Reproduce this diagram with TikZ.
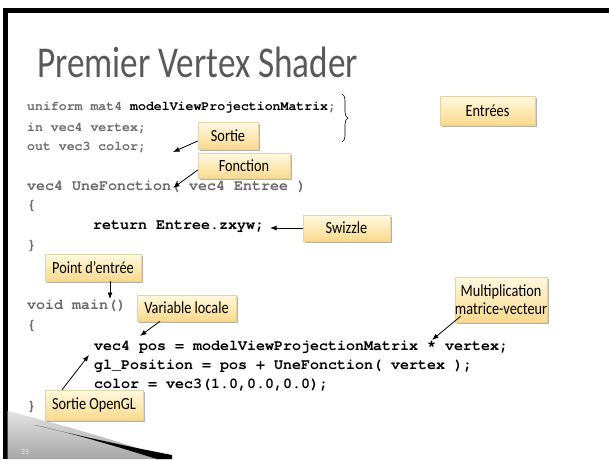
\documentclass[tikz,border=0pt]{standalone}
\usepackage{fontspec}
\setmainfont{Carlito}
\newfontfamily\codefont{texgyrecursor-bold.otf}
\usetikzlibrary{arrows.meta,shadows,decorations.pathreplacing}

\definecolor{titlegray}{HTML}{595959}
\definecolor{codegray}{HTML}{6A6A6A}
\definecolor{calltop}{HTML}{FFF9E0}
\definecolor{callbot}{HTML}{FBD98C}
\definecolor{callline}{HTML}{E3D3A6}

% narrow label text
\newcommand{\narrowtxt}[1]{\scalebox{0.84}[1]{#1}}

\tikzset{
  code/.style={anchor=west, inner sep=0pt, font=\codefont\fontsize{15}{17}\selectfont},
  codedim/.style={code, text=codegray},
  codesmall/.style={codedim, font=\codefont\fontsize{13.2}{15}\selectfont},
  callout/.style={draw=callline, line width=0.5pt, top color=calltop, bottom color=callbot,
    drop shadow={shadow xshift=1.6pt, shadow yshift=-1.6pt, opacity=0.3, fill=black},
    font=\fontsize{17}{18.5}\selectfont, inner sep=0pt, align=center},
  pointer/.style={-{Latex[length=6.5pt,width=5pt]}, line width=0.8pt, black},
}

\begin{document}
\begin{tikzpicture}[x=1pt,y=1pt]
\useasboundingbox (0,0) rectangle (609,-459);
\fill[white] (0,0) rectangle (609,-459);

% slide frame
\fill[black] (3,-8) rectangle (609,-12.5);
\fill[black] (3,-8) rectangle (7.5,-459);

% bottom-left swoosh
\shade[top color=gray!22, bottom color=gray!70] (7.5,-411) .. controls (60,-424) and (115,-440) .. (170,-459) -- (7.5,-459) -- cycle;
\fill[black] (35,-425) .. controls (80,-436) and (125,-446) .. (172,-455) -- (172,-459) -- (157,-459) .. controls (115,-446) and (75,-434) .. cycle;
\node[font=\sffamily\fontsize{7.5}{8}\selectfont, text=white!85!gray] (slideno) at (25,-452) {23};

% title
\node[anchor=base west, inner sep=0pt, text=titlegray, font=\fontsize{44}{48}\selectfont] (title) at (37,-77) {\scalebox{0.8}[1]{Premier Vertex Shader}};

% shader source
\node[codesmall] (l1) at (27,-108) {uniform mat4 \textcolor{black}{modelViewProjectionMatrix};};
\node[codesmall] (l2) at (27,-128) {in vec4 vertex;};
\node[codesmall] (l3) at (27,-148) {out vec3 color;};
\node[codedim] (l4) at (27,-187) {vec4 UneFonction( vec4 Entree )};
\node[codedim] (l5) at (27,-206) {\{};
\node[code]    (l6) at (93,-227) {return Entree.zxyw;};
\node[codedim] (l7) at (27,-246) {\}};
\node[codedim] (l8) at (27,-306) {void main()};
\node[codedim] (l9) at (27,-326) {\{};
\node[code]    (l10) at (94,-347) {vec4 pos = modelViewProjectionMatrix * vertex;};
\node[code]    (l11) at (94,-366) {gl\_Position = pos + UneFonction( vertex );};
\node[code]    (l12) at (94,-385) {color = vec3(1.0,0.0,0.0);};
\node[codedim] (l13) at (27,-407) {\}};

% inputs brace
\draw[decorate, decoration={brace, amplitude=6pt, aspect=0.5}, line width=0.6pt] (342,-94) -- (342,-142);

% callouts
\node[callout, minimum width=95pt, minimum height=29pt] (entrees) at (487.5,-110.5) {\narrowtxt{Entrées}};
\node[callout, minimum width=60pt, minimum height=27pt] (sortie) at (228,-136) {\narrowtxt{Sortie}};
\node[callout, minimum width=92pt, minimum height=25pt] (fonction) at (244,-166) {\narrowtxt{Fonction}};
\node[callout, minimum width=87pt, minimum height=26pt] (swizzle) at (346.5,-228) {\narrowtxt{Swizzle}};
\node[callout, minimum width=96pt, minimum height=27pt] (entry) at (93,-267.5) {\narrowtxt{Point d’entrée}};
\node[callout, minimum width=99pt, minimum height=26pt] (locale) at (186.5,-308) {\narrowtxt{Variable locale}};
\node[callout, minimum width=89pt, minimum height=45pt] (mult) at (501,-299.5) {\narrowtxt{Multiplication}\\\narrowtxt{matrice-vecteur}};
\node[callout, minimum width=98pt, minimum height=30pt] (glout) at (94,-405) {\narrowtxt{Sortie OpenGL}};

% pointer targets in the source
\coordinate (tSortie) at (173,-152);
\coordinate (tFonction) at (173,-188);
\coordinate (tSwizzle) at (270,-228);
\coordinate (tEntry) at (110,-299);
\coordinate (tLocale) at (140,-336);
\coordinate (tMult) at (432,-340);
\coordinate (tGlout) at (89,-355);

\draw[pointer] (sortie.west |- 0,-141) -- (tSortie);
\draw[pointer] (fonction.west |- 0,-170) -- (tFonction);
\draw[pointer] (swizzle.west) -- (tSwizzle);
\draw[pointer] (entry.south -| tEntry) -- (tEntry);
\draw[pointer] (locale.south -| 160,0) -- (tLocale);
\draw[pointer] (mult.south west) ++(6,6) -- (tMult);
\draw[pointer] (glout.north -| 62,0) -- (tGlout);
\end{tikzpicture}
\end{document}
